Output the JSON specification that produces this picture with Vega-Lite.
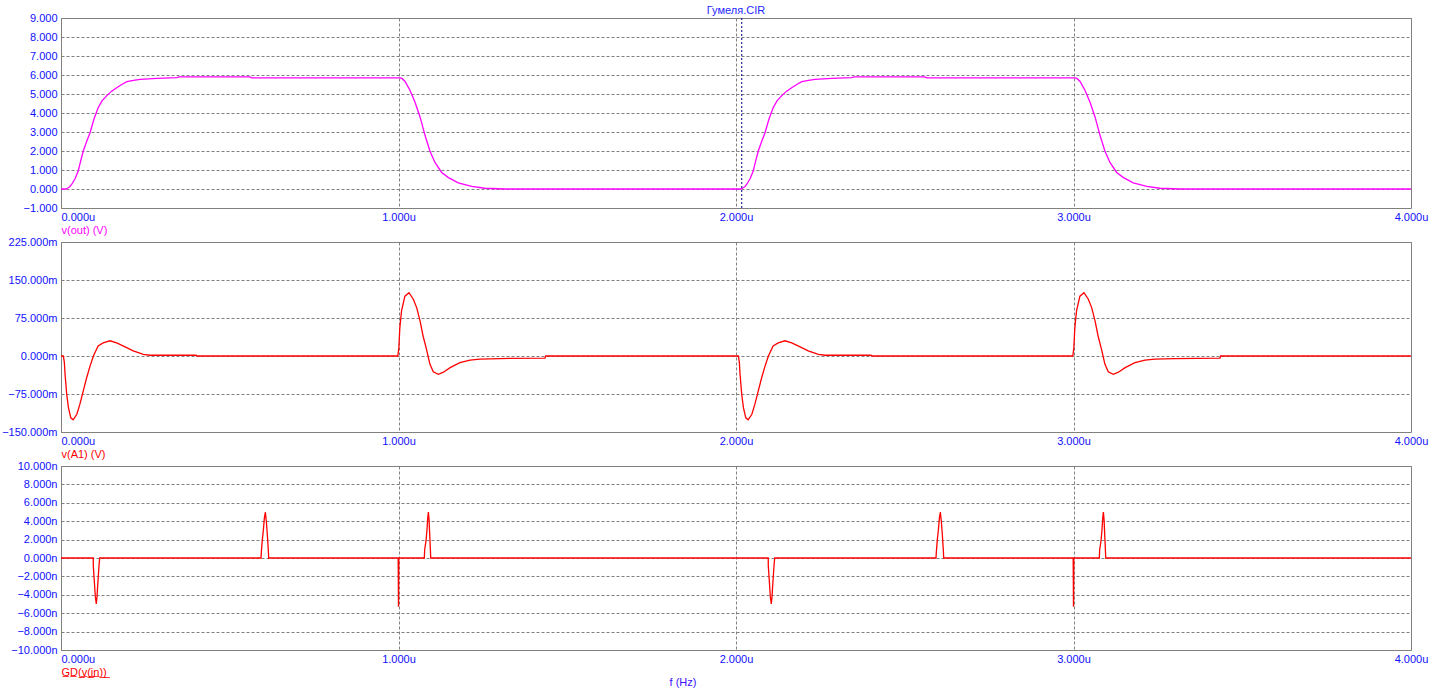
{
  "$schema": "https://vega.github.io/schema/vega-lite/v6.json",
  "padding": {"left": 1, "top": 4, "right": 0, "bottom": 0},
  "background": "#FFFFFF",
  "spacing": 34,
  "bounds": "flush",
  "config": {
    "view": {"stroke": "#808080", "strokeWidth": 1},
    "axis": {"domain": false, "ticks": false, "grid": true, "gridColor": "#808080", "gridDash": [3, 2], "gridWidth": 1, "labelColor": "#1010FF", "labelFont": "Liberation Sans", "labelFontSize": 11, "titleFont": "Liberation Sans", "titleFontSize": 11, "titleFontWeight": "normal"},
    "title": {"font": "Liberation Sans", "fontSize": 11, "fontWeight": "normal"}
  },
  "datasets": {
    "vout": [
      {"t": 0, "v": 0}, {"t": 0.015, "v": 0}, {"t": 0.02, "v": 0.05}, {"t": 0.026, "v": 0.12}, {"t": 0.032, "v": 0.25}, {"t": 0.042, "v": 0.55}, {"t": 0.051, "v": 0.95}, {"t": 0.058, "v": 1.45}, {"t": 0.066, "v": 2.0}, {"t": 0.076, "v": 2.5}, {"t": 0.086, "v": 2.96}, {"t": 0.098, "v": 3.7}, {"t": 0.11, "v": 4.28}, {"t": 0.122, "v": 4.65}, {"t": 0.135, "v": 4.9}, {"t": 0.15, "v": 5.15}, {"t": 0.165, "v": 5.33}, {"t": 0.18, "v": 5.5}, {"t": 0.195, "v": 5.65}, {"t": 0.215, "v": 5.72}, {"t": 0.234, "v": 5.77}, {"t": 0.284, "v": 5.82}, {"t": 0.343, "v": 5.86}, {"t": 0.35, "v": 5.9}, {"t": 0.56, "v": 5.9}, {"t": 0.565, "v": 5.85},
      {"t": 1.005, "v": 5.85}, {"t": 1.01, "v": 5.82}, {"t": 1.019, "v": 5.67}, {"t": 1.034, "v": 5.2}, {"t": 1.049, "v": 4.57}, {"t": 1.064, "v": 3.78}, {"t": 1.079, "v": 2.8}, {"t": 1.093, "v": 2.0}, {"t": 1.108, "v": 1.4}, {"t": 1.128, "v": 0.87}, {"t": 1.148, "v": 0.6}, {"t": 1.177, "v": 0.32}, {"t": 1.217, "v": 0.14}, {"t": 1.256, "v": 0.04}, {"t": 1.316, "v": 0},
      {"t": 2.015, "v": 0}, {"t": 2.02, "v": 0.05}, {"t": 2.026, "v": 0.12}, {"t": 2.032, "v": 0.25}, {"t": 2.042, "v": 0.55}, {"t": 2.051, "v": 0.95}, {"t": 2.058, "v": 1.45}, {"t": 2.066, "v": 2.0}, {"t": 2.076, "v": 2.5}, {"t": 2.086, "v": 2.96}, {"t": 2.098, "v": 3.7}, {"t": 2.11, "v": 4.28}, {"t": 2.122, "v": 4.65}, {"t": 2.135, "v": 4.9}, {"t": 2.15, "v": 5.15}, {"t": 2.165, "v": 5.33}, {"t": 2.18, "v": 5.5}, {"t": 2.195, "v": 5.65}, {"t": 2.215, "v": 5.72}, {"t": 2.234, "v": 5.77}, {"t": 2.284, "v": 5.82}, {"t": 2.343, "v": 5.86}, {"t": 2.35, "v": 5.9}, {"t": 2.56, "v": 5.9}, {"t": 2.565, "v": 5.85},
      {"t": 3.005, "v": 5.85}, {"t": 3.01, "v": 5.82}, {"t": 3.019, "v": 5.67}, {"t": 3.034, "v": 5.2}, {"t": 3.049, "v": 4.57}, {"t": 3.064, "v": 3.78}, {"t": 3.079, "v": 2.8}, {"t": 3.093, "v": 2.0}, {"t": 3.108, "v": 1.4}, {"t": 3.128, "v": 0.87}, {"t": 3.148, "v": 0.6}, {"t": 3.177, "v": 0.32}, {"t": 3.217, "v": 0.14}, {"t": 3.256, "v": 0.04}, {"t": 3.316, "v": 0}, {"t": 4.0, "v": 0}
    ],
    "va1": [
      {"t": 0, "v": 0}, {"t": 0.007, "v": 0}, {"t": 0.01, "v": -13}, {"t": 0.012, "v": -36}, {"t": 0.017, "v": -76}, {"t": 0.022, "v": -102}, {"t": 0.029, "v": -122}, {"t": 0.036, "v": -126}, {"t": 0.047, "v": -115}, {"t": 0.056, "v": -95}, {"t": 0.066, "v": -69}, {"t": 0.076, "v": -43}, {"t": 0.086, "v": -20}, {"t": 0.096, "v": 0}, {"t": 0.11, "v": 20}, {"t": 0.125, "v": 26}, {"t": 0.145, "v": 30}, {"t": 0.165, "v": 26}, {"t": 0.19, "v": 18}, {"t": 0.214, "v": 10}, {"t": 0.244, "v": 3.3}, {"t": 0.264, "v": 1.5}, {"t": 0.4, "v": 1.5}, {"t": 0.402, "v": 0},
      {"t": 0.998, "v": 0}, {"t": 1.001, "v": 16}, {"t": 1.004, "v": 56}, {"t": 1.009, "v": 89}, {"t": 1.019, "v": 118}, {"t": 1.031, "v": 125}, {"t": 1.044, "v": 112}, {"t": 1.054, "v": 95}, {"t": 1.064, "v": 69}, {"t": 1.073, "v": 39}, {"t": 1.083, "v": 13}, {"t": 1.093, "v": -16}, {"t": 1.103, "v": -31}, {"t": 1.118, "v": -36}, {"t": 1.133, "v": -32}, {"t": 1.153, "v": -23}, {"t": 1.182, "v": -13}, {"t": 1.212, "v": -8}, {"t": 1.241, "v": -6}, {"t": 1.3, "v": -5}, {"t": 1.434, "v": -4}, {"t": 1.436, "v": 0},
      {"t": 2.007, "v": 0}, {"t": 2.01, "v": -13}, {"t": 2.012, "v": -36}, {"t": 2.017, "v": -76}, {"t": 2.022, "v": -102}, {"t": 2.029, "v": -122}, {"t": 2.036, "v": -126}, {"t": 2.047, "v": -115}, {"t": 2.056, "v": -95}, {"t": 2.066, "v": -69}, {"t": 2.076, "v": -43}, {"t": 2.086, "v": -20}, {"t": 2.096, "v": 0}, {"t": 2.11, "v": 20}, {"t": 2.125, "v": 26}, {"t": 2.145, "v": 30}, {"t": 2.165, "v": 26}, {"t": 2.19, "v": 18}, {"t": 2.214, "v": 10}, {"t": 2.244, "v": 3.3}, {"t": 2.264, "v": 1.5}, {"t": 2.4, "v": 1.5}, {"t": 2.402, "v": 0},
      {"t": 2.998, "v": 0}, {"t": 3.001, "v": 16}, {"t": 3.004, "v": 56}, {"t": 3.009, "v": 89}, {"t": 3.019, "v": 118}, {"t": 3.031, "v": 125}, {"t": 3.044, "v": 112}, {"t": 3.054, "v": 95}, {"t": 3.064, "v": 69}, {"t": 3.073, "v": 39}, {"t": 3.083, "v": 13}, {"t": 3.093, "v": -16}, {"t": 3.103, "v": -31}, {"t": 3.118, "v": -36}, {"t": 3.133, "v": -32}, {"t": 3.153, "v": -23}, {"t": 3.182, "v": -13}, {"t": 3.212, "v": -8}, {"t": 3.241, "v": -6}, {"t": 3.3, "v": -5}, {"t": 3.434, "v": -4}, {"t": 3.436, "v": 0}, {"t": 4.0, "v": 0}
    ],
    "gd": [
      {"t": 0, "v": 0}, {"t": 0.0955, "v": 0}, {"t": 0.0957, "v": -0.85}, {"t": 0.0987, "v": -2.5}, {"t": 0.1017, "v": -4.2}, {"t": 0.1046, "v": -5.0}, {"t": 0.1067, "v": -4.2}, {"t": 0.1096, "v": -2.5}, {"t": 0.1126, "v": -0.85}, {"t": 0.1147, "v": 0},
      {"t": 0.5926, "v": 0}, {"t": 0.5935, "v": 0.6}, {"t": 0.5965, "v": 2.0}, {"t": 0.5995, "v": 3.0}, {"t": 0.6025, "v": 4.3}, {"t": 0.6054, "v": 5.0}, {"t": 0.6084, "v": 4.0}, {"t": 0.6114, "v": 2.5}, {"t": 0.6144, "v": 0.8}, {"t": 0.6154, "v": 0},
      {"t": 0.999, "v": 0}, {"t": 1.0, "v": -5.3}, {"t": 1.001, "v": 0},
      {"t": 1.0765, "v": 0}, {"t": 1.0775, "v": 0.9}, {"t": 1.0815, "v": 1.85}, {"t": 1.0845, "v": 3.1}, {"t": 1.0865, "v": 4.3}, {"t": 1.0885, "v": 5.0}, {"t": 1.0905, "v": 4.2}, {"t": 1.0925, "v": 2.5}, {"t": 1.0945, "v": 0.9}, {"t": 1.0955, "v": 0},
      {"t": 2.0955, "v": 0}, {"t": 2.0957, "v": -0.85}, {"t": 2.0987, "v": -2.5}, {"t": 2.1017, "v": -4.2}, {"t": 2.1046, "v": -5.0}, {"t": 2.1067, "v": -4.2}, {"t": 2.1096, "v": -2.5}, {"t": 2.1126, "v": -0.85}, {"t": 2.1147, "v": 0},
      {"t": 2.5926, "v": 0}, {"t": 2.5935, "v": 0.6}, {"t": 2.5965, "v": 2.0}, {"t": 2.5995, "v": 3.0}, {"t": 2.6025, "v": 4.3}, {"t": 2.6054, "v": 5.0}, {"t": 2.6084, "v": 4.0}, {"t": 2.6114, "v": 2.5}, {"t": 2.6144, "v": 0.8}, {"t": 2.6154, "v": 0},
      {"t": 2.999, "v": 0}, {"t": 3.0, "v": -5.3}, {"t": 3.001, "v": 0},
      {"t": 3.0765, "v": 0}, {"t": 3.0775, "v": 0.9}, {"t": 3.0815, "v": 1.85}, {"t": 3.0845, "v": 3.1}, {"t": 3.0865, "v": 4.3}, {"t": 3.0885, "v": 5.0}, {"t": 3.0905, "v": 4.2}, {"t": 3.0925, "v": 2.5}, {"t": 3.0945, "v": 0.9}, {"t": 3.0955, "v": 0}, {"t": 4.0, "v": 0}
    ],
    "cursor": [{"t": 2.017}]
  },
  "vconcat": [
    {
      "width": 1350, "height": 190,
      "title": {"text": "Гумеля.CIR", "color": "#2626FF", "frame": "group", "anchor": "middle", "offset": -4},
      "layer": [
        {
          "data": {"name": "vout"},
          "mark": {"type": "line", "color": "#FF00FF", "strokeWidth": 1.3},
          "encoding": {
            "x": {"field": "t", "type": "quantitative", "scale": {"domain": [0, 4], "nice": false, "zero": false},
              "axis": {"values": [0, 1, 2, 3, 4], "labelExpr": "format(datum.value, '.3f') + 'u'", "labelAlign": {"condition": {"test": "datum.value == 0", "value": "left"}, "value": "center"}, "labelPadding": 3, "title": "v(out) (V)", "titleColor": "#FF00FF", "titleAnchor": "start", "titleAlign": "left", "titlePadding": 2}},
            "y": {"field": "v", "type": "quantitative", "scale": {"domain": [-1, 9], "nice": false, "zero": false},
              "axis": {"values": [-1, 0, 1, 2, 3, 4, 5, 6, 7, 8, 9], "labelExpr": "format(datum.value, '.3f')", "labelPadding": 4, "title": null}}
          }
        },
        {
          "data": {"name": "cursor"},
          "mark": {"type": "rule", "color": "#000080", "strokeDash": [2, 2], "strokeWidth": 1},
          "encoding": {"x": {"field": "t", "type": "quantitative"}}
        }
      ]
    },
    {
      "width": 1350, "height": 190,
      "data": {"name": "va1"},
      "mark": {"type": "line", "color": "#FF0000", "strokeWidth": 1.3},
      "encoding": {
        "x": {"field": "t", "type": "quantitative", "scale": {"domain": [0, 4], "nice": false, "zero": false},
          "axis": {"values": [0, 1, 2, 3, 4], "labelExpr": "format(datum.value, '.3f') + 'u'", "labelAlign": {"condition": {"test": "datum.value == 0", "value": "left"}, "value": "center"}, "labelPadding": 3, "title": "v(A1) (V)", "titleColor": "#FF0000", "titleAnchor": "start", "titleAlign": "left", "titlePadding": 2}},
        "y": {"field": "v", "type": "quantitative", "scale": {"domain": [-150, 225], "nice": false, "zero": false},
          "axis": {"values": [-150, -75, 0, 75, 150, 225], "labelExpr": "format(datum.value, '.3f') + 'm'", "labelPadding": 4, "title": null}}
      }
    },
    {
      "width": 1350, "height": 184,
      "data": {"name": "gd"},
      "title": {"text": "f (Hz)", "orient": "bottom", "color": "#3A10FF", "frame": "group", "anchor": "middle", "dx": -53, "offset": 0},
      "mark": {"type": "line", "color": "#FF0000", "strokeWidth": 1.3},
      "encoding": {
        "x": {"field": "t", "type": "quantitative", "scale": {"domain": [0, 4], "nice": false, "zero": false},
          "axis": {"values": [0, 1, 2, 3, 4], "labelExpr": "format(datum.value, '.3f') + 'u'", "labelAlign": {"condition": {"test": "datum.value == 0", "value": "left"}, "value": "center"}, "labelPadding": 3, "title": "G\u0332D\u0332(\u0332v\u0332(\u0332i\u0332n\u0332)\u0332)\u0332", "titleColor": "#FF0000", "titleAnchor": "start", "titleAlign": "left", "titlePadding": 2}},
        "y": {"field": "v", "type": "quantitative", "scale": {"domain": [-10, 10], "nice": false, "zero": false},
          "axis": {"values": [-10, -8, -6, -4, -2, 0, 2, 4, 6, 8, 10], "labelExpr": "format(datum.value, '.3f') + 'n'", "labelPadding": 4, "title": null}}
      }
    }
  ]
}
